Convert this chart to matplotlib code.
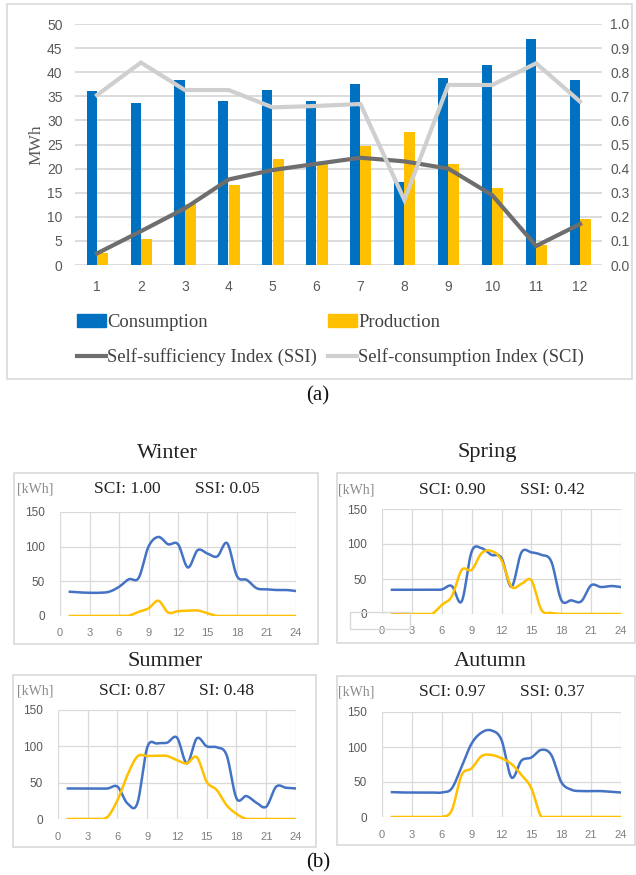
import numpy as np
import matplotlib
matplotlib.use("Agg")
import matplotlib.pyplot as plt
from matplotlib.patches import Rectangle, Patch
from matplotlib.lines import Line2D
from matplotlib.ticker import FormatStrFormatter

# ---------------- data (a) ----------------
months = list(range(1, 13))
consumption = [36.0, 33.7, 38.4, 34.0, 36.3, 34.0, 37.5, 17.3, 38.7, 41.4, 46.8, 38.4]
production = [2.4, 5.4, 12.6, 16.6, 21.9, 21.0, 24.7, 27.6, 20.9, 15.9, 4.2, 9.5]
ssi = [0.048, 0.14, 0.235, 0.355, 0.394, 0.42, 0.445, 0.43, 0.40, 0.29, 0.079, 0.17]
sci = [0.705, 0.84, 0.726, 0.726, 0.654, 0.66, 0.668, 0.27, 0.747, 0.747, 0.837, 0.678]

# ---------------- data (b) ----------------
hours = list(range(1, 25))
winter_cons = [35, 34, 33.5, 33.5, 35, 42, 53, 55, 100, 114, 103.5, 103.5,
               70, 95, 90, 86, 105, 57.5, 52, 40, 38.5, 37.5, 37.5, 36]
winter_prod = [0, 0, 0, 0, 0, 0, 0.5, 6, 11, 22, 5, 7,
               7.7, 8, 4, 0, 0, 0, 0, 0, 0, 0, 0, 0]
spring_cons = [34.6, 34.6, 34.6, 34.6, 34.6, 35, 40, 18, 89, 94, 84.5, 80,
               39, 88, 88, 84.5, 75, 20, 19.5, 18, 41, 38.5, 40, 38.5]
spring_prod = [0, 0, 0, 0, 0, 13, 25, 63, 63, 87, 90, 77,
               39, 43, 48, 6, 1.5, 0, 0, 0, 0, 0, 0, 0]
summer_cons = [42, 42, 42, 42, 42, 44.5, 21.5, 21.5, 98.6, 104, 105, 112,
               76.6, 111, 100, 98.6, 88, 28.4, 31.6, 22.5, 17, 44.5, 43, 42]
summer_prod = [0, 0, 0, 0, 3, 26, 60.5, 86, 86.7, 87, 86.7, 81,
               76.6, 85, 51, 40, 19, 7, 0, 0, 0, 0, 0, 0]
autumn_cons = [35.5, 35, 35, 35, 35, 35, 40.7, 72, 105, 120.7, 123.6, 110,
               56.5, 80.5, 85, 96, 88.6, 50, 39, 37, 37, 37, 36, 35]
autumn_prod = [0, 0, 0, 0, 0, 0, 9.5, 60, 69.5, 87, 88.6, 84,
               75.7, 60, 41, 0, 0, 0, 0, 0, 0, 0, 0, 0]

seasons = ["Winter", "Spring", "Summer", "Autumn"]
season_sci = ["SCI: 1.00", "SCI: 0.90", "SCI: 0.87", "SCI: 0.97"]
season_ssi = ["SSI: 0.05", "SSI: 0.42", "SI: 0.48", "SSI: 0.37"]
season_cons = [winter_cons, spring_cons, summer_cons, autumn_cons]
season_prod = [winter_prod, spring_prod, summer_prod, autumn_prod]

# ---------------- styling ----------------
W, H = 636, 875
SERIF = ["Liberation Serif", "DejaVu Serif"]
SANS = ["Liberation Sans Narrow", "Liberation Sans", "DejaVu Sans"]
GRID = "#d9d9d9"
TICK = "#595959"


def rect(x0, y0, x1, y1):
    return [x0 / W, 1 - y1 / H, (x1 - x0) / W, (y1 - y0) / H]


def fx(x):
    return x / W


def fy(y):
    return 1 - y / H


def smooth(xv, yv, n=20):
    """Excel-like smoothed line (cardinal spline) through the given points."""
    xv = np.asarray(xv, float)
    yv = np.asarray(yv, float)
    m = np.gradient(yv, xv)
    xs, ys = [], []
    for i in range(len(xv) - 1):
        h = xv[i + 1] - xv[i]
        t = np.linspace(0, 1, n, endpoint=False)
        h00 = 2 * t**3 - 3 * t**2 + 1
        h10 = t**3 - 2 * t**2 + t
        h01 = -2 * t**3 + 3 * t**2
        h11 = t**3 - t**2
        xs.append(xv[i] + t * h)
        ys.append(h00 * yv[i] + h10 * h * m[i] + h01 * yv[i + 1] + h11 * h * m[i + 1])
    xs.append([xv[-1]])
    ys.append([yv[-1]])
    return np.concatenate(xs), np.concatenate(ys)


fig = plt.figure(figsize=(W / 100, H / 100), dpi=100)

# ---------------- panel (a) ----------------
fig.add_artist(Rectangle((fx(7), fy(379)), (632 - 7) / W, (379 - 4) / H,
                         transform=fig.transFigure, fill=False, ec=GRID, lw=1.2))

ax = fig.add_axes(rect(75, 24, 602, 265))
x = np.array(months)
ax.bar(x - 0.12, consumption, width=0.23, color="#0070C0", zorder=2)
ax.bar(x + 0.125, production, width=0.25, color="#FFC000", zorder=2)
ax.set_xlim(0.5, 12.5)
ax.set_ylim(0, 50)
ax.set_yticks(range(0, 51, 5))
ax.set_xticks(months)
ax.set_axisbelow(True)
ax.grid(axis="y", color=GRID, lw=1.3)
for s in ax.spines.values():
    s.set_visible(False)
ax.tick_params(axis="both", length=0, colors=TICK, labelsize=10)
ax.tick_params(axis="y", pad=9)
ax.tick_params(axis="x", pad=11)
for lab in ax.get_xticklabels() + ax.get_yticklabels():
    lab.set_family(SANS)

ax2 = ax.twinx()
ax2.plot(x, ssi, color="#6e6e6e", lw=3, solid_joinstyle="miter")
ax2.plot(x, sci, color="#cfcfcf", lw=3, solid_joinstyle="miter")
ax2.set_ylim(0, 1.0)
ax2.set_yticks(np.arange(0, 1.01, 0.1))
ax2.yaxis.set_major_formatter(FormatStrFormatter("%.1f"))
for s in ax2.spines.values():
    s.set_visible(False)
ax2.tick_params(axis="y", length=0, colors=TICK, labelsize=10, pad=6)
for lab in ax2.get_yticklabels():
    lab.set_family(SANS)

fig.text(fx(36), fy(145), "MWh", rotation=90, ha="center", va="center",
         family=SERIF, fontsize=12.5, color=TICK)

handles = [Patch(color="#0070C0"), Line2D([], [], color="#6e6e6e", lw=3),
           Patch(color="#FFC000"), Line2D([], [], color="#cfcfcf", lw=3)]
labels = ["Consumption", "Self-sufficiency Index (SSI)",
          "Production", "Self-consumption Index (SCI)"]
leg = fig.legend(handles, labels, ncol=2, loc="upper left",
                 bbox_to_anchor=(fx(77), fy(314)), frameon=False,
                 borderpad=0, borderaxespad=0, handlelength=1.55,
                 handletextpad=0.05, columnspacing=0.62, labelspacing=0.92,
                 prop={"family": SERIF, "size": 13.4})
for t in leg.get_texts():
    t.set_color("#404040")

fig.text(fx(318), fy(396), "(a)", ha="center", va="center", family=SERIF,
         fontsize=15, color="#111111")

# ---------------- panel (b) ----------------
boxes = [(14, 473, 318, 644), (337, 473, 635, 643),
         (13, 675, 316, 847), (337, 676, 635, 845)]
axes_px = [(60, 512, 296, 616), (382, 509, 621, 614),
           (58, 710, 296, 819), (382, 712, 621, 817)]
title_px = [(167, 453), (487, 453), (165, 662), (490, 662)]
info_y = [489, 490, 691, 692]
sci_x = [127, 452, 132, 452]
ssi_x = [227, 552, 227, 552]
kwh_x = [17, 338, 17, 338]

for i in range(4):
    bx0, by0, bx1, by1 = boxes[i]
    fig.add_artist(Rectangle((fx(bx0), fy(by1)), (bx1 - bx0) / W, (by1 - by0) / H,
                             transform=fig.transFigure, fill=False, ec=GRID, lw=1.2))
    a = fig.add_axes(rect(*axes_px[i]))
    xc, yc = smooth(hours, season_cons[i])
    xp, yp = smooth(hours, season_prod[i])
    a.plot(xc, yc, color="#4472C4", lw=1.8, zorder=3)
    a.plot(xp, np.maximum(yp, 0), color="#FFC000", lw=1.8, zorder=3)
    a.set_xlim(0, 24)
    a.set_ylim(0, 150)
    a.set_xticks(range(0, 25, 3))
    a.set_yticks([0, 50, 100, 150])
    a.grid(True, color=GRID, lw=0.9)
    a.set_axisbelow(True)
    for s in a.spines.values():
        s.set_visible(False)
    a.tick_params(axis="x", length=0, colors="#7f7f7f", labelsize=8, pad=9)
    a.tick_params(axis="y", length=0, colors=TICK, labelsize=8.5, pad=11)
    for lab in a.get_xticklabels() + a.get_yticklabels():
        lab.set_family(SANS)

    tx, ty = title_px[i]
    fig.text(fx(tx), fy(ty), seasons[i], ha="center", va="center",
             family=SERIF, fontsize=16, color="#222222")
    fig.text(fx(kwh_x[i]), fy(info_y[i]), "[kWh]", ha="left", va="center",
             family=SERIF, fontsize=10, color="#8c8c8c")
    fig.text(fx(sci_x[i]), fy(info_y[i]), season_sci[i], ha="center", va="center",
             family=SERIF, fontsize=12.5, color="#222222")
    fig.text(fx(ssi_x[i]), fy(info_y[i]), season_ssi[i], ha="center", va="center",
             family=SERIF, fontsize=12.5, color="#222222")

# small leftover frame seen around the Spring "0" label
fig.add_artist(Rectangle((fx(350), fy(629)), (410 - 350) / W, (629 - 612) / H,
                         transform=fig.transFigure, fill=False, ec=GRID, lw=1))

fig.text(fx(318), fy(863), "(b)", ha="center", va="center", family=SERIF,
         fontsize=15, color="#111111")

fig.savefig("out.png", dpi=100)
